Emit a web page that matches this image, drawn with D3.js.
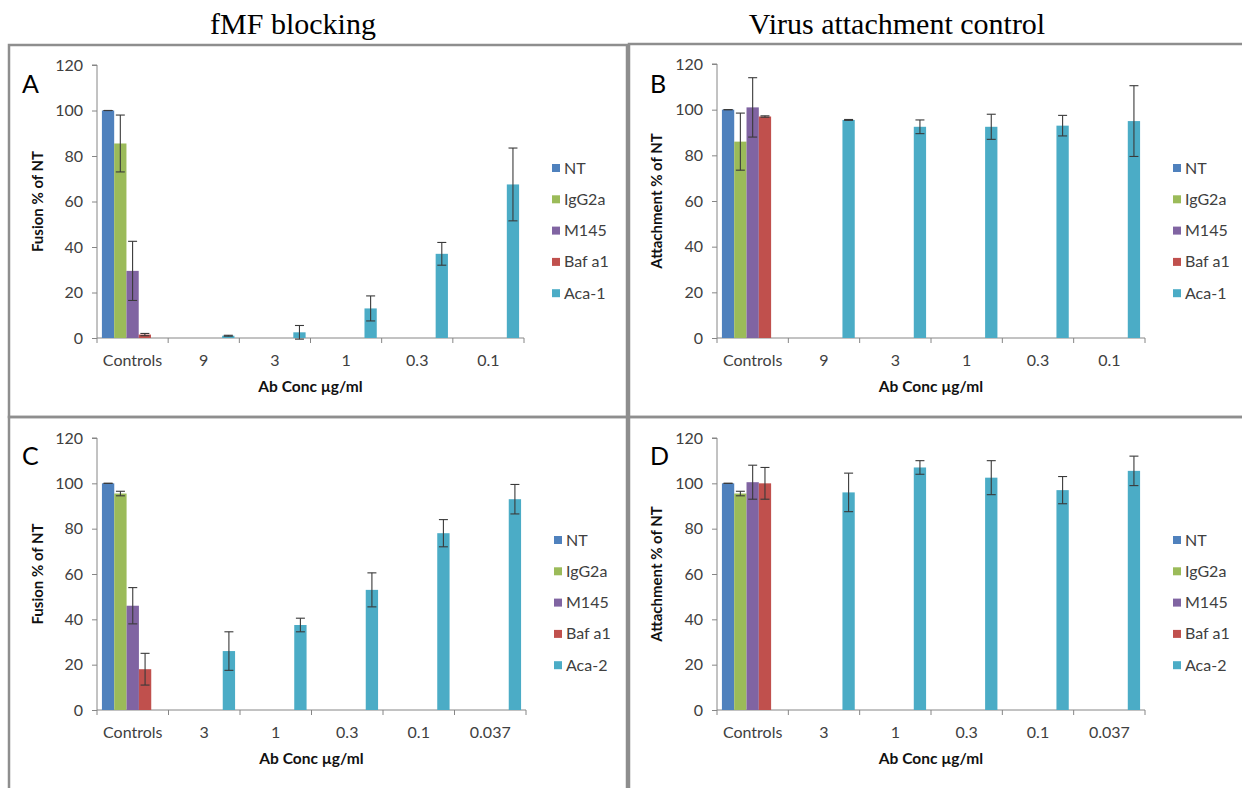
<!DOCTYPE html>
<html>
<head>
<meta charset="utf-8">
<script src="https://cdn.jsdelivr.net/npm/d3@7"></script>
<style>
  body { margin: 0; background: #fff; }
  svg text { font-family: Lato, "Open Sans", sans-serif; }
</style>
</head>
<body>
<div id="chart"></div>
<script>
// series and categories
var seriesTop = ["NT", "IgG2a", "M145", "Baf a1", "Aca-1"];
var seriesBottom = ["NT", "IgG2a", "M145", "Baf a1", "Aca-2"];
var categoriesTop = ["Controls", "9", "3", "1", "0.3", "0.1"];
var categoriesBottom = ["Controls", "3", "1", "0.3", "0.1", "0.037"];
var colors = ["#4F81BD", "#9BBB59", "#8064A2", "#C0504D", "#4BACC6"];
var yTicks = [0, 20, 40, 60, 80, 100, 120];

// A - fusion, Aca-1
var controlsA = [100, 85.5, 29.5, 1.5];
var controlsErrA = [0, 12.5, 13, 0.5];
var antibodyA = [1, 2.5, 13, 37, 67.5];
var antibodyErrA = [0.2, 3, 5.5, 5, 16];

// B - attachment, Aca-1
var controlsB = [100, 86, 101, 97];
var controlsErrB = [0, 12.5, 13, 0.3];
var antibodyB = [95.5, 92.5, 92.5, 93, 95];
var antibodyErrB = [0.2, 3, 5.5, 4.5, 15.5];

// C - fusion, Aca-2
var controlsC = [100, 95.5, 46, 18];
var controlsErrC = [0, 1, 8, 7];
var antibodyC = [26, 37.5, 53, 78, 93];
var antibodyErrC = [8.5, 3, 7.5, 6, 6.5];

// D - attachment, Aca-2
var controlsD = [100, 95.5, 100.5, 100];
var controlsErrD = [0, 1, 7.5, 7];
var antibodyD = [96, 107, 102.5, 97, 105.5];
var antibodyErrD = [8.5, 3, 7.5, 6, 6.5];

var width = 1242, height = 788;

var svg = d3.select("#chart").append("svg")
    .attr("width", width)
    .attr("height", height);

// column titles
svg.append("text")
    .attr("x", 293).attr("y", 34)
    .attr("text-anchor", "middle")
    .style("font-family", "'Liberation Serif', 'DejaVu Serif', serif")
    .style("font-size", "30px")
    .text("fMF blocking");

svg.append("text")
    .attr("x", 897).attr("y", 34)
    .attr("text-anchor", "middle")
    .style("font-family", "'Liberation Serif', 'DejaVu Serif', serif")
    .style("font-size", "30px")
    .text("Virus attachment control");

function buildRows(categories, series, controls, controlsErr, antibody, antibodyErr) {
    return categories.map(function(c, i) {
        return {
            category: c,
            values: series.map(function(s, j) {
                var v = 0, e = 0;
                if (i === 0 && j < 4) { v = controls[j]; e = controlsErr[j]; }
                if (i > 0 && j === 4) { v = antibody[i - 1]; e = antibodyErr[i - 1]; }
                return { series: s, idx: j, value: v, err: e };
            })
        };
    });
}

function drawPanel(p) {
    // frame
    svg.append("rect")
        .attr("x", p.frame[0]).attr("y", p.frame[1])
        .attr("width", p.frame[2]).attr("height", p.frame[3])
        .attr("fill", "none")
        .attr("stroke", "#8e8e8e")
        .attr("stroke-width", 2.5);

    var g = svg.append("g");

    var x0 = d3.scaleBand()
        .domain(p.categories)
        .range([p.left, p.right])
        .paddingInner(0)
        .paddingOuter(0);

    var x1 = d3.scaleBand()
        .domain(p.series)
        .range([0, x0.bandwidth()])
        .paddingOuter(0.4)
        .paddingInner(0);

    var y = d3.scaleLinear()
        .domain([0, 120])
        .range([p.bottom, p.top]);

    // y axis
    var yAxis = g.append("g")
        .attr("transform", "translate(" + p.left + ",0)")
        .call(d3.axisLeft(y).tickValues(yTicks).tickSize(5).tickPadding(9));
    yAxis.select(".domain").attr("stroke", "#868686").attr("d", "M0," + (p.bottom + 5) + "V" + p.top + "H-5");
    yAxis.selectAll(".tick line").attr("stroke", "#868686");
    yAxis.selectAll(".tick text")
        .attr("fill", "#404040")
        .style("font-size", "16px")
        .style("font-family", "Lato, sans-serif");

    // x axis line and boundary ticks
    g.append("line")
        .attr("x1", p.left).attr("x2", p.right)
        .attr("y1", p.bottom).attr("y2", p.bottom)
        .attr("stroke", "#868686");
    g.selectAll(".xtick")
        .data(p.categories.slice(1).concat(["__end"]))
        .enter().append("line")
        .attr("x1", function(d) { return d === "__end" ? p.right : x0(d); })
        .attr("x2", function(d) { return d === "__end" ? p.right : x0(d); })
        .attr("y1", p.bottom).attr("y2", p.bottom + 5)
        .attr("stroke", "#868686");
    g.selectAll(".xlabel")
        .data(p.categories)
        .enter().append("text")
        .attr("x", function(d) { return x0(d) + x0.bandwidth() / 2; })
        .attr("y", p.bottom + 28)
        .attr("text-anchor", "middle")
        .attr("fill", "#404040")
        .style("font-size", "16px")
        .text(function(d) { return d; });

    // bars
    var group = g.selectAll(".grp")
        .data(p.rows)
        .enter().append("g")
        .attr("transform", function(d) { return "translate(" + x0(d.category) + ",0)"; });

    var bars = group.selectAll("rect")
        .data(function(d) { return d.values.filter(function(v) { return v.value > 0; }); })
        .enter();

    bars.append("rect")
        .attr("x", function(d) { return x1(d.series); })
        .attr("width", x1.bandwidth())
        .attr("y", function(d) { return y(d.value); })
        .attr("height", function(d) { return p.bottom - y(d.value); })
        .attr("fill", function(d) { return colors[d.idx]; });

    // error bars
    var eb = bars.append("g")
        .attr("stroke", "#3a3a3a")
        .attr("stroke-width", 1.1);
    eb.append("line")
        .attr("x1", function(d) { return x1(d.series) + x1.bandwidth() / 2; })
        .attr("x2", function(d) { return x1(d.series) + x1.bandwidth() / 2; })
        .attr("y1", function(d) { return y(d.value + d.err); })
        .attr("y2", function(d) { return y(d.value - d.err); });
    eb.append("line")
        .attr("x1", function(d) { return x1(d.series) + x1.bandwidth() / 2 - 4.5; })
        .attr("x2", function(d) { return x1(d.series) + x1.bandwidth() / 2 + 4.5; })
        .attr("y1", function(d) { return y(d.value + d.err); })
        .attr("y2", function(d) { return y(d.value + d.err); });
    eb.append("line")
        .attr("x1", function(d) { return x1(d.series) + x1.bandwidth() / 2 - 4.5; })
        .attr("x2", function(d) { return x1(d.series) + x1.bandwidth() / 2 + 4.5; })
        .attr("y1", function(d) { return y(d.value - d.err); })
        .attr("y2", function(d) { return y(d.value - d.err); });

    // axis titles
    g.append("text")
        .attr("x", (p.left + p.right) / 2)
        .attr("y", p.bottom + 54)
        .attr("text-anchor", "middle")
        .attr("fill", "#111")
        .style("font-size", "15.5px")
        .style("font-weight", "bold")
        .text("Ab Conc µg/ml");

    g.append("text")
        .attr("transform", "translate(" + (p.left - p.yLabelOffset) + "," + ((p.top + p.bottom) / 2) + ") rotate(-90)")
        .attr("text-anchor", "middle")
        .attr("fill", "#111")
        .style("font-size", "15px")
        .style("font-weight", "bold")
        .text(p.yLabel);

    // panel letter
    g.append("text")
        .attr("x", p.letterX)
        .attr("y", p.bottom - 245)
        .attr("fill", "#000")
        .style("font-size", "25px")
        .text(p.letter);

    // legend
    var legend = g.selectAll(".leg")
        .data(p.series)
        .enter().append("g")
        .attr("transform", function(d, i) { return "translate(" + (p.right + 28) + "," + (p.bottom - 170 + i * 31.3) + ")"; });
    legend.append("rect")
        .attr("x", 0).attr("y", -4)
        .attr("width", 8).attr("height", 8)
        .attr("fill", function(d, i) { return colors[i]; });
    legend.append("text")
        .attr("x", 12).attr("y", 5.5)
        .attr("fill", "#404040")
        .style("font-size", "16px")
        .text(function(d) { return d; });
}

drawPanel({
    frame: [9, 45, 618, 372],
    left: 97, right: 524, top: 65, bottom: 338,
    categories: categoriesTop, series: seriesTop,
    rows: buildRows(categoriesTop, seriesTop, controlsA, controlsErrA, antibodyA, antibodyErrA),
    yLabel: "Fusion % of NT", yLabelOffset: 54, letter: "A", letterX: 22
});

drawPanel({
    frame: [629, 44, 616, 373],
    left: 717, right: 1145, top: 64, bottom: 338,
    categories: categoriesTop, series: seriesTop,
    rows: buildRows(categoriesTop, seriesTop, controlsB, controlsErrB, antibodyB, antibodyErrB),
    yLabel: "Attachment % of NT", yLabelOffset: 55, letter: "B", letterX: 650
});

drawPanel({
    frame: [9, 417, 618, 375],
    left: 97, right: 526, top: 438, bottom: 710,
    categories: categoriesBottom, series: seriesBottom,
    rows: buildRows(categoriesBottom, seriesBottom, controlsC, controlsErrC, antibodyC, antibodyErrC),
    yLabel: "Fusion % of NT", yLabelOffset: 54, letter: "C", letterX: 22
});

drawPanel({
    frame: [629, 417, 616, 375],
    left: 717, right: 1145, top: 438, bottom: 710,
    categories: categoriesBottom, series: seriesBottom,
    rows: buildRows(categoriesBottom, seriesBottom, controlsD, controlsErrD, antibodyD, antibodyErrD),
    yLabel: "Attachment % of NT", yLabelOffset: 55, letter: "D", letterX: 650
});
</script>
</body>
</html>
